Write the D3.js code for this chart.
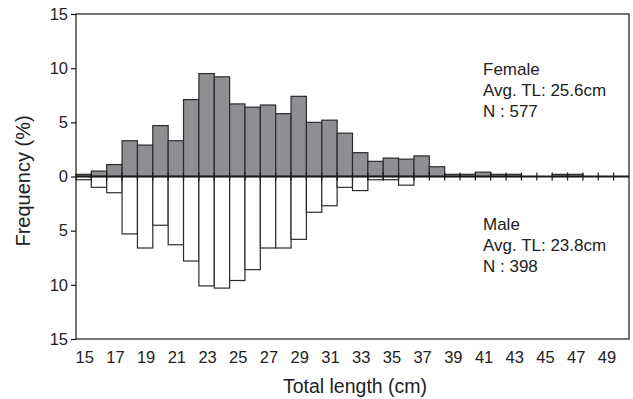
<!DOCTYPE html>
<html>
<head>
<meta charset="utf-8">
<script src="https://cdn.jsdelivr.net/npm/d3@7"></script>
<style>
  html, body { margin: 0; padding: 0; background: #fff; }
  #chart { width: 633px; height: 399px; }
  text { font-family: "Liberation Sans", Arial, sans-serif; fill: #222; }
</style>
</head>
<body>
<div id="chart"></div>
<script>
// length classes (cm) and frequencies (%)
const lengths = d3.range(15, 51);
const female = [0.2, 0.5, 1.1, 3.3, 2.9, 4.7, 3.3, 7.1, 9.5, 9.2,
                6.7, 6.4, 6.6, 5.8, 7.4, 5.0, 5.2, 4.0, 2.2, 1.4,
                1.7, 1.6, 1.9, 0.9, 0.2, 0.2, 0.4, 0.2, 0.2, 0,
                0, 0.2, 0.2, 0, 0, 0];
const male = [0.3, 1.0, 1.5, 5.3, 6.6, 4.5, 6.3, 7.8, 10.1, 10.3,
              9.6, 8.6, 6.6, 6.6, 5.8, 3.3, 2.7, 1.0, 1.3, 0.3,
              0.3, 0.8, 0, 0, 0, 0, 0, 0, 0, 0,
              0, 0, 0, 0, 0, 0];
const yTicks = [-15, -10, -5, 0, 5, 10, 15];
const xTickLabels = d3.range(15, 50, 2);
const femaleNote = ['Female', 'Avg. TL: 25.6cm', 'N : 577'];
const maleNote = ['Male', 'Avg. TL: 23.8cm', 'N : 398'];

const W = 633, H = 399;
const m = {top: 14, right: 4, bottom: 60, left: 76};

const svg = d3.select('#chart').append('svg')
  .attr('width', W).attr('height', H);

const x = d3.scaleLinear().domain([15, 51]).range([m.left, W - m.right]);
const y = d3.scaleLinear().domain([-15, 15]).range([H - m.bottom, m.top]);

const rows = lengths.map((L, i) => ({L, f: female[i], m: male[i]}));

// female bars (up)
svg.append('g').selectAll('rect')
  .data(rows.filter(d => d.f > 0)).join('rect')
  .attr('x', d => x(d.L)).attr('width', d => x(d.L + 1) - x(d.L))
  .attr('y', d => y(d.f)).attr('height', d => y(0) - y(d.f))
  .attr('fill', '#8e8f93').attr('stroke', '#2b2b2b').attr('stroke-width', 1.2);

// male bars (down)
svg.append('g').selectAll('rect')
  .data(rows.filter(d => d.m > 0)).join('rect')
  .attr('x', d => x(d.L)).attr('width', d => x(d.L + 1) - x(d.L))
  .attr('y', y(0)).attr('height', d => y(-d.m) - y(0))
  .attr('fill', '#fff').attr('stroke', '#2b2b2b').attr('stroke-width', 1.2);

// zero line with ticks at class edges
svg.append('line')
  .attr('x1', x(15)).attr('x2', x(51)).attr('y1', y(0)).attr('y2', y(0))
  .attr('stroke', '#1a1a1a').attr('stroke-width', 2);
svg.append('g').selectAll('line')
  .data(d3.range(16, 51)).join('line')
  .attr('x1', d => x(d)).attr('x2', d => x(d))
  .attr('y1', y(0) - 4).attr('y2', y(0) + 4)
  .attr('stroke', '#1a1a1a').attr('stroke-width', 1.2);

// frame
svg.append('rect')
  .attr('x', x(15)).attr('y', y(15))
  .attr('width', x(51) - x(15)).attr('height', y(-15) - y(15))
  .attr('fill', 'none').attr('stroke', '#1a1a1a').attr('stroke-width', 1.2);

// y axis
const yAxis = svg.append('g')
  .attr('transform', `translate(${x(15)},0)`)
  .call(d3.axisLeft(y).tickValues(yTicks).tickFormat(d => Math.abs(d)).tickSize(5).tickPadding(3));
yAxis.select('.domain').remove();
yAxis.selectAll('line').attr('stroke', '#1a1a1a').attr('stroke-width', 1.2);
yAxis.selectAll('text').attr('font-size', 16.5).attr('fill', '#222')
  .style('font-family', '"Liberation Sans", Arial, sans-serif');

// x tick labels at class centres
svg.append('g').selectAll('text')
  .data(xTickLabels).join('text')
  .attr('x', d => x(d + 0.5) + 1).attr('y', 363)
  .attr('text-anchor', 'middle').attr('font-size', 16.5)
  .text(d => d);

// axis titles
svg.append('text')
  .attr('x', 355).attr('y', 393)
  .attr('text-anchor', 'middle').attr('font-size', 19.5)
  .text('Total length (cm)');
svg.append('text')
  .attr('transform', `translate(30,181) rotate(-90)`)
  .attr('text-anchor', 'middle').attr('font-size', 20)
  .text('Frequency (%)');

// notes
function note(lines, y0) {
  svg.append('g').selectAll('text')
    .data(lines).join('text')
    .attr('x', 483).attr('y', (d, i) => y0 + i * 21)
    .attr('font-size', 17)
    .text(d => d);
}
note(femaleNote, 75);
note(maleNote, 230);
</script>
</body>
</html>
